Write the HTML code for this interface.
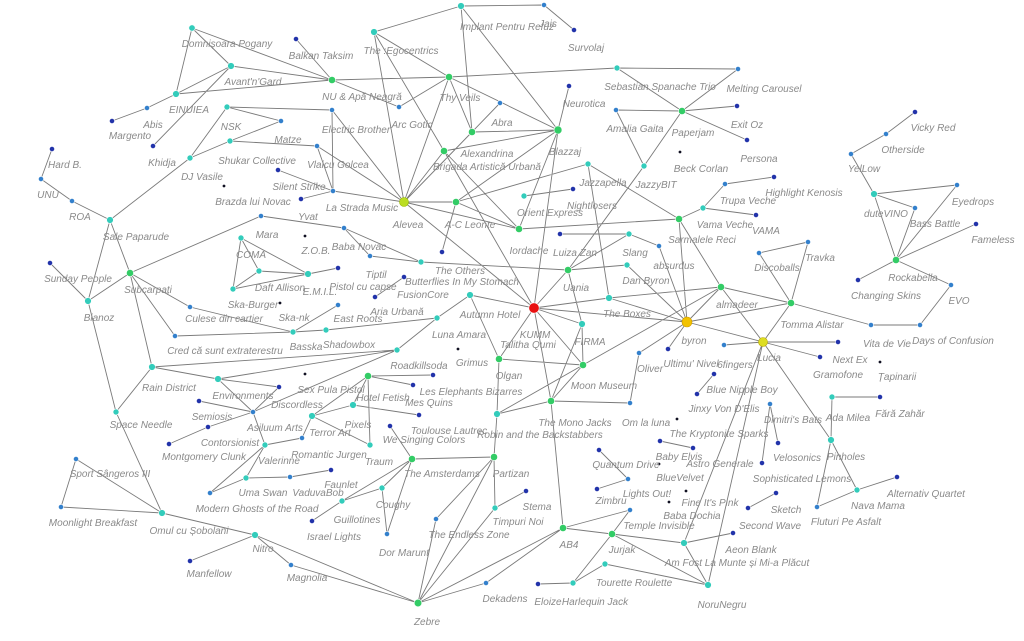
<!DOCTYPE html>
<html><head><meta charset="utf-8"><style>
html,body{margin:0;padding:0;background:#fff;}
svg{display:block;}
text{font-family:"Liberation Sans",sans-serif;font-size:10px;font-style:italic;fill:#8a8a8a;text-anchor:middle;}
</style></head><body>
<svg width="1024" height="641" viewBox="0 0 1024 641" xmlns="http://www.w3.org/2000/svg">
<path fill="none" stroke="#7a7a7a" stroke-width="0.9" d="
M192 28L231 66 M192 28L176 94 M192 28L332 80 M231 66L176 94 M231 66L332 80 M231 66L153 146 M176 94L332 80 M176 94L147 108 M147 108L112 121 M296 39L332 80 M332 80L449 77 M332 80L399 107 M374 32L461 6 M374 32L449 77 M374 32L404 202 M374 32L444 151 M461 6L544 5 M544 5L574 30 M461 6L472 132 M461 6L558 130 M449 77L399 107 M449 77L404 202 M449 77L472 132 M449 77L558 130 M449 77L617 68
M227 107L332 110 M227 107L281 121 M227 107L190 158 M281 121L230 141 M230 141L190 158 M230 141L317 146 M332 110L333 191 M332 110L404 202 M317 146L333 191 M317 146L404 202 M278 170L333 191 M301 199L333 191 M333 191L404 202 M190 158L110 220
M52 149L41 179 M41 179L72 201 M72 201L110 220 M110 220L130 273 M110 220L88 301 M50 263L88 301 M130 273L88 301 M130 273L261 216 M261 216L344 228 M344 228L370 256 M344 228L421 262 M370 256L421 262
M241 238L259 271 M241 238L233 289 M241 238L308 274 M259 271L308 274 M233 289L308 274 M233 289L259 271 M308 274L338 268 M375 297L404 277
M404 202L456 202 M404 202L472 132 M404 202L444 151 M404 202L519 229 M404 202L534 308 M472 132L500 103 M472 132L558 130 M444 151L558 130 M444 151L519 229 M444 151L534 308 M456 202L558 130 M456 202L519 229 M456 202L442 252 M558 130L569 86 M558 130L519 229 M558 130L534 308
M617 68L738 69 M617 68L682 111 M682 111L738 69 M682 111L616 110 M682 111L737 106 M682 111L747 140 M682 111L644 166 M616 110L644 166 M644 166L568 270 M588 164L456 202 M588 164L679 219 M588 164L609 298 M524 196L573 189 M519 229L679 219 M679 219L703 208 M703 208L725 184 M725 184L774 177 M703 208L756 215 M679 219L721 287 M679 219L687 322
M560 234L629 234 M629 234L568 270 M629 234L659 246 M659 246L687 322 M568 270L627 265 M568 270L534 308 M568 270L582 324 M568 270L421 262 M627 265L687 322 M534 308L609 298 M534 308L687 322 M534 308L582 324 M534 308L583 365 M534 308L499 359 M534 308L470 295 M534 308L551 401
M609 298L721 287 M609 298L687 322 M721 287L687 322 M721 287L791 303 M721 287L763 342 M721 287L583 365 M759 253L808 242 M759 253L791 303 M808 242L791 303 M791 303L871 325 M871 325L920 325 M791 303L687 322 M791 303L763 342 M920 325L951 285
M896 260L951 285 M896 260L858 280 M896 260L874 194 M896 260L957 185 M896 260L915 208 M896 260L976 224 M874 194L957 185 M874 194L915 208 M874 194L851 154 M851 154L886 134 M886 134L915 112
M687 322L639 353 M687 322L668 349 M687 322L763 342 M724 345L763 342 M763 342L838 342 M763 342L820 357 M763 342L831 440 M763 342L684 543 M763 342L708 585 M832 397L880 397 M832 397L831 440 M831 440L817 507 M831 440L857 490 M857 490L817 507 M857 490L897 477 M770 404L778 443 M770 404L762 463 M714 374L697 394 M660 441L693 448 M599 450L628 479 M597 489L628 479 M776 493L748 508 M639 353L630 403
M551 401L630 403 M551 401L583 365 M551 401L582 324 M497 414L551 401 M497 414L583 365 M499 359L583 365 M582 324L583 365 M551 401L563 528
M563 528L630 510 M563 528L612 534 M563 528L418 603 M563 528L486 583 M612 534L630 510 M612 534L684 543 M612 534L708 585 M612 534L573 583 M605 564L573 583 M605 564L708 585 M538 584L573 583 M684 543L733 533 M684 543L708 585
M499 359L497 414 M497 414L494 457 M494 457L412 459 M494 457L495 508 M494 457L418 603 M494 457L436 519 M436 519L418 603 M412 459L390 426 M412 459L382 488 M412 459L342 501 M412 459L387 534 M382 488L342 501 M382 488L387 534 M342 501L312 521 M495 508L418 603 M486 583L418 603 M526 491L495 508
M418 603L255 535 M418 603L291 565 M255 535L291 565 M255 535L190 561 M255 535L162 513 M162 513L61 507 M162 513L76 459 M76 459L61 507 M162 513L116 412 M116 412L88 301 M116 412L152 367 M152 367L130 273 M152 367L218 379 M152 367L397 350 M218 379L397 350 M218 379L279 387 M218 379L253 412 M253 412L199 401 M253 412L208 427 M253 412L397 350 M253 412L265 445 M253 412L279 387 M208 427L169 444 M397 350L437 318
M130 273L190 307 M130 273L175 336 M190 307L293 332 M175 336L293 332 M293 332L338 305 M293 332L326 330 M326 330L437 318 M437 318L470 295 M470 295L499 359
M368 376L433 375 M368 376L413 385 M368 376L312 416 M368 376L370 445 M368 376L353 405 M353 405L312 416 M353 405L419 415 M312 416L370 445 M312 416L302 438 M302 438L265 445 M265 445L246 478 M265 445L210 493 M246 478L210 493 M246 478L290 477 M290 477L331 470
"/>
<g stroke="#fff" stroke-width="0.6">
<!-- green -->
<g fill="#33cc66">
<circle cx="332" cy="80" r="3.6"/><circle cx="449" cy="77" r="3.6"/><circle cx="472" cy="132" r="3.6"/><circle cx="444" cy="151" r="3.6"/><circle cx="456" cy="202" r="3.6"/><circle cx="558" cy="130" r="4"/><circle cx="682" cy="111" r="3.6"/><circle cx="519" cy="229" r="3.6"/><circle cx="679" cy="219" r="3.6"/><circle cx="568" cy="270" r="3.6"/><circle cx="721" cy="287" r="3.6"/><circle cx="791" cy="303" r="3.6"/><circle cx="896" cy="260" r="3.6"/><circle cx="130" cy="273" r="3.6"/><circle cx="499" cy="359" r="3.6"/><circle cx="583" cy="365" r="3.6"/><circle cx="551" cy="401" r="3.6"/><circle cx="368" cy="376" r="3.6"/><circle cx="412" cy="459" r="3.6"/><circle cx="494" cy="457" r="3.6"/><circle cx="563" cy="528" r="3.6"/><circle cx="612" cy="534" r="3.6"/><circle cx="418" cy="603" r="3.8"/>
</g>
<!-- teal -->
<g fill="#33ccbb">
<circle cx="192" cy="28" r="3.2"/><circle cx="231" cy="66" r="3.4"/><circle cx="176" cy="94" r="3.4"/><circle cx="374" cy="32" r="3.4"/><circle cx="461" cy="6" r="3.4"/><circle cx="227" cy="107" r="3"/><circle cx="230" cy="141" r="3"/><circle cx="190" cy="158" r="3"/><circle cx="110" cy="220" r="3.4"/><circle cx="88" cy="301" r="3.4"/><circle cx="241" cy="238" r="3"/><circle cx="259" cy="271" r="3"/><circle cx="233" cy="289" r="3"/><circle cx="308" cy="274" r="3.4"/><circle cx="421" cy="262" r="3"/><circle cx="470" cy="295" r="3.4"/><circle cx="437" cy="318" r="3"/><circle cx="293" cy="332" r="3"/><circle cx="326" cy="330" r="3"/><circle cx="397" cy="350" r="3"/><circle cx="152" cy="367" r="3.4"/><circle cx="218" cy="379" r="3.4"/><circle cx="353" cy="405" r="3.4"/><circle cx="312" cy="416" r="3.4"/><circle cx="497" cy="414" r="3.4"/><circle cx="116" cy="412" r="3"/><circle cx="265" cy="445" r="3"/><circle cx="370" cy="445" r="3"/><circle cx="246" cy="478" r="3"/><circle cx="162" cy="513" r="3.4"/><circle cx="382" cy="488" r="3"/><circle cx="342" cy="501" r="3"/><circle cx="495" cy="508" r="3"/><circle cx="255" cy="535" r="3.4"/><circle cx="617" cy="68" r="3"/><circle cx="644" cy="166" r="3"/><circle cx="588" cy="164" r="3"/><circle cx="524" cy="196" r="3"/><circle cx="703" cy="208" r="3"/><circle cx="629" cy="234" r="3"/><circle cx="627" cy="265" r="3"/><circle cx="609" cy="298" r="3.4"/><circle cx="582" cy="324" r="3.4"/><circle cx="874" cy="194" r="3.4"/><circle cx="832" cy="397" r="3"/><circle cx="831" cy="440" r="3.4"/><circle cx="857" cy="490" r="3"/><circle cx="684" cy="543" r="3.4"/><circle cx="605" cy="564" r="3"/><circle cx="573" cy="583" r="3"/><circle cx="708" cy="585" r="3.4"/>
</g>
<!-- blue -->
<g fill="#3380cc">
<circle cx="147" cy="108" r="2.6"/><circle cx="399" cy="107" r="2.6"/><circle cx="332" cy="110" r="2.6"/><circle cx="281" cy="121" r="2.6"/><circle cx="317" cy="146" r="2.6"/><circle cx="333" cy="191" r="2.6"/><circle cx="500" cy="103" r="2.6"/><circle cx="41" cy="179" r="2.6"/><circle cx="72" cy="201" r="2.6"/><circle cx="261" cy="216" r="2.6"/><circle cx="344" cy="228" r="2.6"/><circle cx="370" cy="256" r="2.6"/><circle cx="338" cy="305" r="2.6"/><circle cx="190" cy="307" r="2.6"/><circle cx="175" cy="336" r="2.6"/><circle cx="253" cy="412" r="2.6"/><circle cx="302" cy="438" r="2.6"/><circle cx="290" cy="477" r="2.6"/><circle cx="76" cy="459" r="2.6"/><circle cx="61" cy="507" r="2.6"/><circle cx="210" cy="493" r="2.6"/><circle cx="387" cy="534" r="2.6"/><circle cx="436" cy="519" r="2.6"/><circle cx="291" cy="565" r="2.6"/><circle cx="486" cy="583" r="2.6"/><circle cx="544" cy="5" r="2.6"/><circle cx="738" cy="69" r="2.6"/><circle cx="616" cy="110" r="2.6"/><circle cx="725" cy="184" r="2.6"/><circle cx="659" cy="246" r="2.6"/><circle cx="759" cy="253" r="2.6"/><circle cx="808" cy="242" r="2.6"/><circle cx="851" cy="154" r="2.6"/><circle cx="886" cy="134" r="2.6"/><circle cx="957" cy="185" r="2.6"/><circle cx="915" cy="208" r="2.6"/><circle cx="951" cy="285" r="2.6"/><circle cx="871" cy="325" r="2.6"/><circle cx="920" cy="325" r="2.6"/><circle cx="639" cy="353" r="2.6"/><circle cx="724" cy="345" r="2.6"/><circle cx="630" cy="403" r="2.6"/><circle cx="770" cy="404" r="2.6"/><circle cx="628" cy="479" r="2.6"/><circle cx="817" cy="507" r="2.6"/><circle cx="630" cy="510" r="2.6"/>
</g>
<!-- dark blue -->
<g fill="#2233aa">
<circle cx="112" cy="121" r="2.6"/><circle cx="153" cy="146" r="2.6"/><circle cx="296" cy="39" r="2.6"/><circle cx="278" cy="170" r="2.6"/><circle cx="301" cy="199" r="2.6"/><circle cx="52" cy="149" r="2.6"/><circle cx="338" cy="268" r="2.6"/><circle cx="442" cy="252" r="2.6"/><circle cx="404" cy="277" r="2.6"/><circle cx="375" cy="297" r="2.6"/><circle cx="50" cy="263" r="2.6"/><circle cx="279" cy="387" r="2.6"/><circle cx="433" cy="375" r="2.6"/><circle cx="413" cy="385" r="2.6"/><circle cx="199" cy="401" r="2.6"/><circle cx="419" cy="415" r="2.6"/><circle cx="208" cy="427" r="2.6"/><circle cx="169" cy="444" r="2.6"/><circle cx="390" cy="426" r="2.6"/><circle cx="331" cy="470" r="2.6"/><circle cx="312" cy="521" r="2.6"/><circle cx="190" cy="561" r="2.6"/><circle cx="526" cy="491" r="2.6"/><circle cx="574" cy="30" r="2.6"/><circle cx="569" cy="86" r="2.6"/><circle cx="737" cy="106" r="2.6"/><circle cx="747" cy="140" r="2.6"/><circle cx="774" cy="177" r="2.6"/><circle cx="573" cy="189" r="2.6"/><circle cx="756" cy="215" r="2.6"/><circle cx="560" cy="234" r="2.6"/><circle cx="915" cy="112" r="2.6"/><circle cx="976" cy="224" r="2.6"/><circle cx="858" cy="280" r="2.6"/><circle cx="668" cy="349" r="2.6"/><circle cx="838" cy="342" r="2.6"/><circle cx="820" cy="357" r="2.6"/><circle cx="714" cy="374" r="2.6"/><circle cx="697" cy="394" r="2.6"/><circle cx="880" cy="397" r="2.6"/><circle cx="778" cy="443" r="2.6"/><circle cx="660" cy="441" r="2.6"/><circle cx="693" cy="448" r="2.6"/><circle cx="599" cy="450" r="2.6"/><circle cx="762" cy="463" r="2.6"/><circle cx="597" cy="489" r="2.6"/><circle cx="897" cy="477" r="2.6"/><circle cx="776" cy="493" r="2.6"/><circle cx="748" cy="508" r="2.6"/><circle cx="733" cy="533" r="2.6"/><circle cx="538" cy="584" r="2.6"/>
</g>
<g fill="#112" stroke="none">
<circle cx="224" cy="186" r="1.4"/><circle cx="305" cy="236" r="1.4"/><circle cx="280" cy="303" r="1.4"/><circle cx="305" cy="374" r="1.4"/><circle cx="458" cy="349" r="1.4"/><circle cx="680" cy="152" r="1.4"/><circle cx="880" cy="362" r="1.4"/><circle cx="677" cy="419" r="1.4"/><circle cx="659" cy="464" r="1.4"/><circle cx="686" cy="491" r="1.4"/><circle cx="669" cy="502" r="1.4"/>
</g>
<circle cx="404" cy="202" r="4.5" fill="#bbdd22" stroke="#99bb00"/>
<circle cx="763" cy="342" r="4.5" fill="#dddd22" stroke="#bbaa00"/>
<circle cx="687" cy="322" r="5" fill="#f2c200" stroke="#cc9900"/>
<circle cx="534" cy="308" r="5.2" fill="#e81010" stroke="#fff"/>
</g>
<g>
<text x="227" y="47">Domnișoara Pogany</text><text x="253" y="85">Avant'n'Gard</text><text x="189" y="113">EINUIEA</text><text x="153" y="128">Abis</text><text x="130" y="139">Margento</text><text x="162" y="166">Khidja</text><text x="321" y="59">Balkan Taksim</text><text x="362" y="100">NU &amp; Apă Neagră</text><text x="401" y="54">The :Egocentrics</text><text x="507" y="30">Implant Pentru Refuz</text><text x="548" y="27">Jais</text><text x="586" y="51">Survolaj</text><text x="460" y="101">Thy Veils</text><text x="412" y="128">Arc Gotic</text><text x="502" y="126">Abra</text><text x="487" y="157">Alexandrina</text><text x="487" y="170">Brigada Artistică Urbană</text><text x="231" y="130">NSK</text><text x="288" y="143">Matze</text><text x="356" y="133">Electric Brother</text><text x="257" y="164">Shukar Collective</text><text x="338" y="168">Vlaicu Golcea</text><text x="202" y="180">DJ Vasile</text><text x="299" y="190">Silent Strike</text><text x="253" y="205">Brazda lui Novac</text><text x="362" y="211">La Strada Music</text><text x="408" y="228">Alevea</text><text x="470" y="228">A-C Leonte</text><text x="65" y="168">Hard B.</text><text x="48" y="198">UNU</text><text x="80" y="220">ROA</text><text x="136" y="240">Sale Paparude</text><text x="308" y="220">Yvat</text><text x="267" y="238">Mara</text><text x="316" y="254">Z.O.B.</text><text x="359" y="250">Baba Novac</text><text x="251" y="258">COMA</text><text x="280" y="291">Daft Allison</text><text x="320" y="295">E.M.I.L.</text><text x="376" y="278">Tiptil</text><text x="363" y="290">Pistol cu capse</text><text x="423" y="298">FusionCore</text><text x="397" y="315">Aria Urbană</text><text x="78" y="282">Sunday People</text><text x="148" y="293">Subcarpați</text><text x="99" y="321">Bianoz</text><text x="253" y="308">Ska-Burger</text><text x="294" y="321">Ska-nk</text><text x="358" y="322">East Roots</text><text x="224" y="322">Culese din cartier</text><text x="460" y="274">The Others</text><text x="462" y="285">Butterflies In My Stomach</text><text x="490" y="318">Autumn Hotel</text><text x="459" y="338">Luna Amara</text><text x="225" y="354">Cred că sunt extraterestru</text><text x="306" y="350">Basska</text><text x="349" y="348">Shadowbox</text><text x="419" y="369">Roadkillsoda</text><text x="472" y="366">Grimus</text><text x="509" y="379">Olgan</text><text x="535" y="338">KUMM</text><text x="528" y="348">Talitha Qumi</text><text x="590" y="345">FIRMA</text><text x="169" y="391">Rain District</text><text x="243" y="399">Environments</text><text x="331" y="393">Sex Pula Pistol</text><text x="297" y="408">Discordless</text><text x="383" y="401">Hotel Fetish</text><text x="471" y="395">Les Elephants Bizarres</text><text x="429" y="406">Mes Quins</text><text x="212" y="420">Semiosis</text><text x="275" y="431">Asiluum Arts</text><text x="330" y="436">Terror Art</text><text x="358" y="428">Pixels</text><text x="449" y="434">Toulouse Lautrec</text><text x="424" y="443">We Singing Colors</text><text x="141" y="428">Space Needle</text><text x="230" y="446">Contorsionist</text><text x="204" y="460">Montgomery Clunk</text><text x="279" y="464">Valerinne</text><text x="329" y="458">Romantic Jurgen</text><text x="379" y="465">Traum</text><text x="110" y="477">Sport Sângeros III</text><text x="442" y="477">The Amsterdams</text><text x="511" y="477">Partizan</text><text x="263" y="496">Uma Swan</text><text x="318" y="496">VaduvaBob</text><text x="341" y="488">Faunlet</text><text x="393" y="508">Coughy</text><text x="257" y="512">Modern Ghosts of the Road</text><text x="357" y="523">Guillotines</text><text x="93" y="526">Moonlight Breakfast</text><text x="189" y="534">Omul cu Șobolani</text><text x="334" y="540">Israel Lights</text><text x="404" y="556">Dor Marunt</text><text x="469" y="538">The Endless Zone</text><text x="537" y="510">Stema</text><text x="518" y="525">Timpuri Noi</text><text x="263" y="552">Nitro</text><text x="209" y="577">Manfellow</text><text x="307" y="581">Magnolia</text><text x="505" y="602">Dekadens</text><text x="427" y="625">Zebre</text><text x="660" y="90">Sebastian Spanache Trio</text><text x="764" y="92">Melting Carousel</text><text x="584" y="107">Neurotica</text><text x="635" y="132">Amalia Gaita</text><text x="693" y="136">Paperjam</text><text x="747" y="128">Exit Oz</text><text x="759" y="162">Persona</text><text x="565" y="155">Blazzaj</text><text x="701" y="172">Beck Corlan</text><text x="603" y="186">Jazzapella</text><text x="656" y="188">JazzyBIT</text><text x="550" y="216">Orient Express</text><text x="592" y="209">Nightlosers</text><text x="748" y="204">Trupa Veche</text><text x="804" y="196">Highlight Kenosis</text><text x="725" y="228">Vama Veche</text><text x="766" y="234">VAMA</text><text x="702" y="243">Sarmalele Reci</text><text x="529" y="254">Iordache</text><text x="575" y="256">Luiza Zan</text><text x="635" y="256">Slang</text><text x="674" y="269">absurdus</text><text x="646" y="284">Dan Byron</text><text x="576" y="291">Uania</text><text x="627" y="317">The Boxes</text><text x="737" y="308">almadeer</text><text x="777" y="271">Discoballs</text><text x="820" y="261">Travka</text><text x="812" y="328">Tomma Alistar</text><text x="864" y="172">YelLow</text><text x="903" y="153">Otherside</text><text x="933" y="131">Vicky Red</text><text x="886" y="217">duteVINO</text><text x="973" y="205">Eyedrops</text><text x="935" y="227">Bass Battle</text><text x="993" y="243">Fameless</text><text x="913" y="281">Rockabella</text><text x="886" y="299">Changing Skins</text><text x="959" y="304">EVO</text><text x="694" y="344">byron</text><text x="691" y="367">Ultimu' Nivel</text><text x="735" y="368">6fingers</text><text x="769" y="361">Lucia</text><text x="887" y="347">Vita de Vie</text><text x="953" y="344">Days of Confusion</text><text x="850" y="363">Next Ex</text><text x="838" y="378">Gramofone</text><text x="897" y="380">Țapinarii</text><text x="650" y="372">Oliver</text><text x="604" y="389">Moon Museum</text><text x="742" y="393">Blue Nipple Boy</text><text x="724" y="412">Jinxy Von D'Elis</text><text x="793" y="423">Dimitri's Bats</text><text x="848" y="421">Ada Milea</text><text x="900" y="417">Fără Zahăr</text><text x="575" y="426">The Mono Jacks</text><text x="646" y="426">Om la luna</text><text x="540" y="438">Robin and the Backstabbers</text><text x="719" y="437">The Kryptonite Sparks</text><text x="797" y="461">Velosonics</text><text x="846" y="460">Pinholes</text><text x="679" y="460">Baby Elvis</text><text x="720" y="467">Astro Generale</text><text x="626" y="468">Quantum Drive</text><text x="680" y="481">BlueVelvet</text><text x="802" y="482">Sophisticated Lemons</text><text x="647" y="497">Lights Out!</text><text x="611" y="504">Zimbru</text><text x="926" y="497">Alternativ Quartet</text><text x="878" y="509">Nava Mama</text><text x="710" y="506">Fine It's Pink</text><text x="692" y="519">Baba Dochia</text><text x="786" y="513">Sketch</text><text x="846" y="525">Fluturi Pe Asfalt</text><text x="659" y="529">Temple Invisible</text><text x="770" y="529">Second Wave</text><text x="569" y="548">AB4</text><text x="622" y="553">Jurjak</text><text x="751" y="553">Aeon Blank</text><text x="737" y="566">Am Fost La Munte și Mi-a Plăcut</text><text x="634" y="586">Tourette Roulette</text><text x="548" y="605">Eloize</text><text x="595" y="605">Harlequin Jack</text><text x="722" y="608">NoruNegru</text>
</g>
</svg>
</body></html>
